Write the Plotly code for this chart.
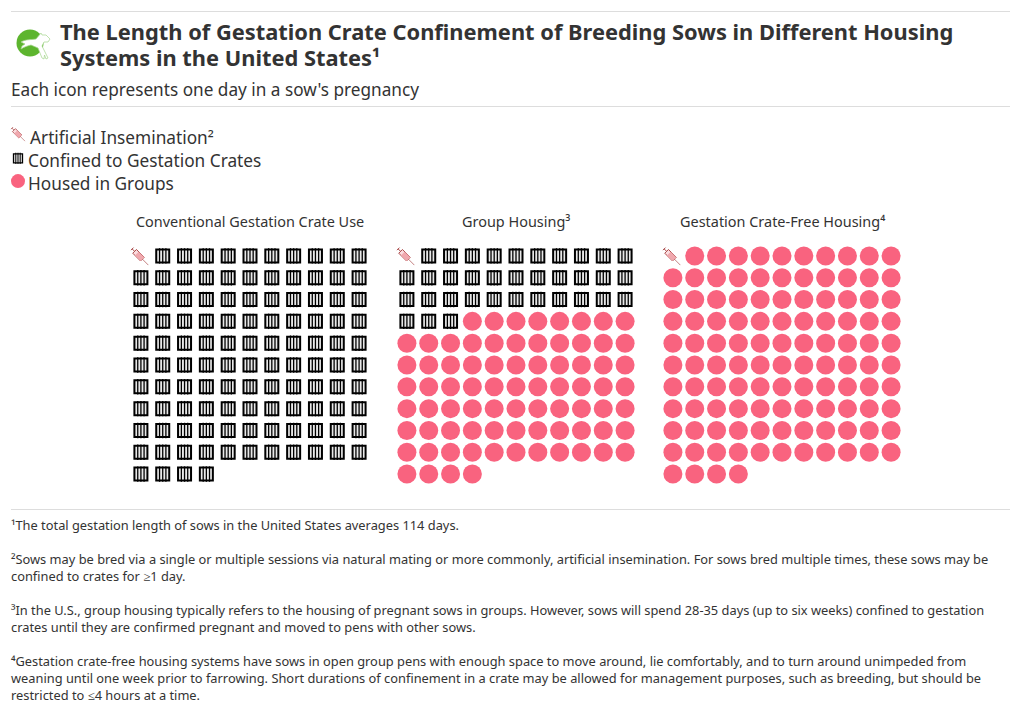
import urllib.parse

import plotly.graph_objects as go

W, H = 1020, 714

# days out of the 114 day pregnancy, per housing system
PANELS = ["Conventional Gestation Crate Use", "Group Housing³", "Gestation Crate-Free Housing⁴"]
INSEMINATION_DAYS = [1, 1, 1]
CRATE_DAYS = [113, 35, 0]
GROUP_DAYS = [0, 78, 113]

TITLE_LINES = [
    "The Length of Gestation Crate Confinement of Breeding Sows in Different Housing",
    "Systems in the United States¹",
]
SUBTITLE = "Each icon represents one day in a sow's pregnancy"
LEGEND = ["Artificial Insemination²", "Confined to Gestation Crates", "Housed in Groups"]
FOOTNOTES = [
    "¹The total gestation length of sows in the United States averages 114 days.",
    "",
    "²Sows may be bred via a single or multiple sessions via natural mating or more commonly, artificial insemination. For sows bred multiple times, these sows may be",
    "confined to crates for ≥1 day.",
    "",
    "³In the U.S., group housing typically refers to the housing of pregnant sows in groups. However, sows will spend 28-35 days (up to six weeks) confined to gestation",
    "crates until they are confirmed pregnant and moved to pens with other sows.",
    "",
    "⁴Gestation crate-free housing systems have sows in open group pens with enough space to move around, lie comfortably, and to turn around unimpeded from",
    "weaning until one week prior to farrowing. Short durations of confinement in a crate may be allowed for management purposes, such as breeding, but should be",
    "restricted to ≤4 hours at a time.",
]

COLS = 11
PINK = "#F9637F"
TEXT = "#333333"
RULE = "#DDDDDD"
FONT = "Noto Sans"
PANEL_LEFT = [130, 396, 662]
PANEL_TOP = 245
PANEL_SIZE = 240

SYRINGE_SVG = """<svg xmlns='http://www.w3.org/2000/svg' viewBox='0 0 20 20'>
<path d='M0.6 3.4 L3.4 0.6 M2 2 L4.4 4.4' stroke='#A33A3A' stroke-width='1' fill='none'/>
<path d='M2.6 6.6 L6.6 2.6 L15 11 L11 15 Z' fill='#FBDDE0' stroke='#A33A3A' stroke-width='1'/>
<path d='M5 9 L9 5 L15 11 L11 15 Z' fill='#F0A8AE'/>
<path d='M13 13 L19.6 19.6' stroke='#A33A3A' stroke-width='0.7'/>
</svg>"""

LOGO_SVG = """<svg xmlns='http://www.w3.org/2000/svg' viewBox='0 0 36 36'>
<circle cx='14' cy='18' r='13.5' fill='#5DB52E'/>
<path d='M5 17 C10 14 15 15 20 14 L25 8 L26 10 L30 10 L34 14 L32 17 L28 17 L26 21 L32 33 L30 34 L28.5 30 L28 34 L26 33 L22 23 L15 20 C11 21 8 22 5 24 L6 21 L9 19 Z'
 fill='#FFFFFF' stroke='#A5D58C' stroke-width='0.7' stroke-linejoin='round'/>
</svg>"""


def svg_uri(svg):
    return "data:image/svg+xml," + urllib.parse.quote(svg)


def px(x):
    return x / W


def py(y):
    return 1 - y / H


def add_crates(fig, cols, rows, xaxis, yaxis, size, bar, line_w, bar_w, pitch):
    # box first, then the bars inside it
    fig.add_trace(go.Scatter(x=cols, y=rows, mode="markers", xaxis=xaxis, yaxis=yaxis, hoverinfo="skip",
                             marker=dict(symbol="square", size=size, color="#E8E8E8",
                                         line=dict(color="#000000", width=line_w))))
    for off in [-pitch, 0, pitch]:
        fig.add_trace(go.Scatter(x=[c + off for c in cols], y=rows, mode="markers", xaxis=xaxis, yaxis=yaxis,
                                 hoverinfo="skip",
                                 marker=dict(symbol="line-ns", size=bar, line=dict(color="#000000", width=bar_w))))


def add_circles(fig, cols, rows, xaxis, yaxis, size):
    fig.add_trace(go.Scatter(x=cols, y=rows, mode="markers", xaxis=xaxis, yaxis=yaxis, hoverinfo="skip",
                             marker=dict(symbol="circle", size=size, color=PINK)))


fig = go.Figure()
layout_axes = {}
images = []
annotations = []

for i, name in enumerate(PANELS):
    xa, ya = f"x{i + 1}", f"y{i + 1}"
    suffix = "" if i == 0 else str(i + 1)
    left = PANEL_LEFT[i]
    layout_axes["xaxis" + suffix] = dict(domain=[px(left), px(left + PANEL_SIZE)], range=[-0.5, COLS - 0.5],
                                         visible=False, anchor="y" + suffix)
    layout_axes["yaxis" + suffix] = dict(domain=[py(PANEL_TOP + PANEL_SIZE), py(PANEL_TOP)],
                                         range=[COLS - 0.5, -0.5], visible=False, anchor="x" + suffix)

    days = ["i"] * INSEMINATION_DAYS[i] + ["c"] * CRATE_DAYS[i] + ["g"] * GROUP_DAYS[i]
    crate_x = [d % COLS for d, kind in enumerate(days) if kind == "c"]
    crate_y = [d // COLS for d, kind in enumerate(days) if kind == "c"]
    group_x = [d % COLS for d, kind in enumerate(days) if kind == "g"]
    group_y = [d // COLS for d, kind in enumerate(days) if kind == "g"]
    if crate_x:
        add_crates(fig, crate_x, crate_y, xa, ya, 13, 11, 2, 1.3, 0.145)
    if group_x:
        add_circles(fig, group_x, group_y, xa, ya, 19)

    images.append(dict(source=svg_uri(SYRINGE_SVG), xref=xa, yref=ya, x=-0.06, y=0.02, sizex=0.85, sizey=0.85,
                       xanchor="center", yanchor="middle", layer="above"))
    annotations.append(dict(text=name, xref="paper", yref="paper", x=px(left + PANEL_SIZE / 2), y=py(221),
                            showarrow=False, xanchor="center", yanchor="middle",
                            font=dict(family=FONT, size=14.45, color=TEXT)))

# legend gets its own small axes
layout_axes["xaxis4"] = dict(domain=[0, px(36)], range=[0, 36], visible=False, anchor="y4")
layout_axes["yaxis4"] = dict(domain=[py(193.5), py(124.5)], range=[2.5, -0.5], visible=False, anchor="x4")
images.append(dict(source=svg_uri(SYRINGE_SVG), xref="x4", yref="y4", x=18, y=-0.08, sizex=15, sizey=0.65,
                   xanchor="center", yanchor="middle", layer="above"))
add_crates(fig, [18], [0.97], "x4", "y4", 9, 8, 1.3, 1, 2.2)
add_circles(fig, [18], [1.96], "x4", "y4", 14)

for row, (label, left) in enumerate(zip(LEGEND, [28, 26, 26])):
    annotations.append(dict(text=label, xref="paper", yref="paper", x=px(left), y=py(138 + 23 * row),
                            showarrow=False, xanchor="left", yanchor="middle",
                            font=dict(family=FONT, size=17.25, color=TEXT)))

for row, line in enumerate(TITLE_LINES):
    annotations.append(dict(text=f"<b>{line}</b>", xref="paper", yref="paper", x=px(58), y=py(32 + 25.5 * row),
                            showarrow=False, xanchor="left", yanchor="middle",
                            font=dict(family=FONT, size=21.85, color=TEXT)))

annotations.append(dict(text=SUBTITLE, xref="paper", yref="paper", x=px(9), y=py(89), showarrow=False,
                        xanchor="left", yanchor="middle", font=dict(family=FONT, size=17.2, color=TEXT)))

# one annotation per footnote line, plotly's own line height comes out a bit too tight
for row, line in enumerate(FOOTNOTES):
    if line:
        annotations.append(dict(text=line, xref="paper", yref="paper", x=px(9), y=py(525 + 17 * row), showarrow=False,
                                xanchor="left", yanchor="middle", align="left",
                                font=dict(family=FONT, size=12.84, color=TEXT)))

images.append(dict(source=svg_uri(LOGO_SVG), xref="paper", yref="paper", x=px(34), y=py(43), sizex=px(36),
                   sizey=36 / H, xanchor="center", yanchor="middle", layer="above"))

rules = [dict(type="line", xref="paper", yref="paper", x0=px(11), x1=px(1010), y0=py(y), y1=py(y),
              line=dict(color=RULE, width=1)) for y in [11.5, 106.5, 509.5]]

fig.update_layout(width=W, height=H, margin=dict(l=0, r=0, t=0, b=0), autosize=False, showlegend=False,
                  paper_bgcolor="#FFFFFF", plot_bgcolor="#FFFFFF", images=images, annotations=annotations,
                  shapes=rules, **layout_axes)

fig.write_html("out.html", config={"displayModeBar": False}, post_script="document.body.style.margin = '0';")
